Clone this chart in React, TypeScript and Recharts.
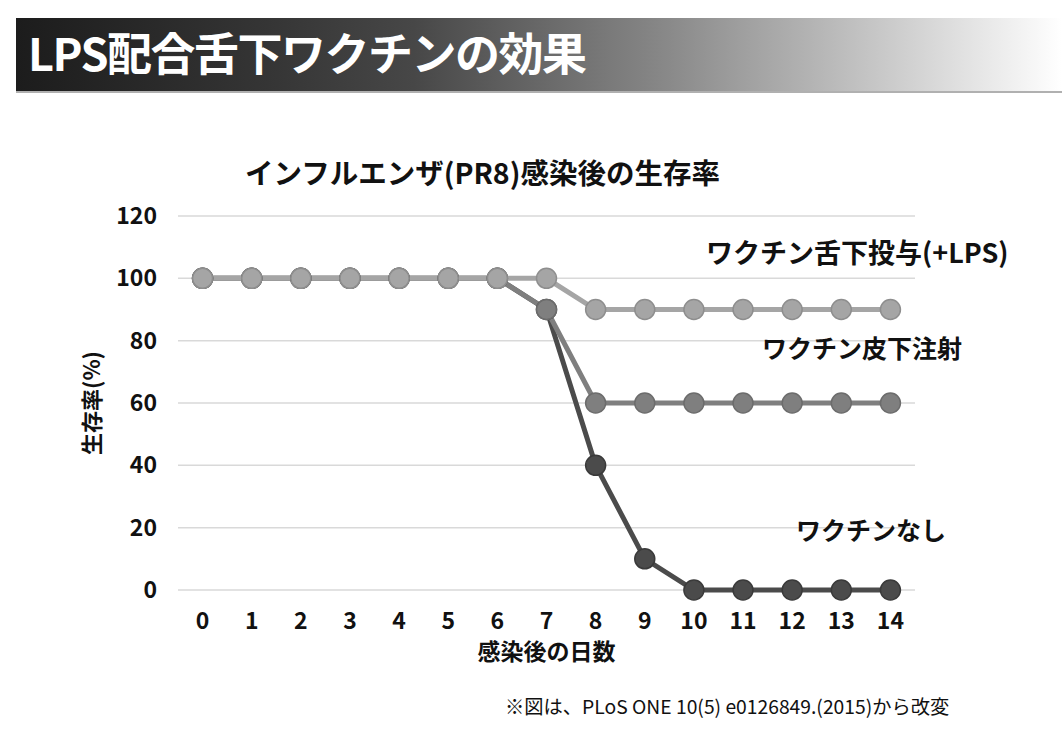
import { CartesianGrid, Line, LineChart, XAxis, YAxis } from "recharts";

const DAYS = [0, 1, 2, 3, 4, 5, 6, 7, 8, 9, 10, 11, 12, 13, 14];
const SUBLINGUAL_LPS = [100, 100, 100, 100, 100, 100, 100, 100, 90, 90, 90, 90, 90, 90, 90];
const SUBCUTANEOUS = [100, 100, 100, 100, 100, 100, 100, 90, 60, 60, 60, 60, 60, 60, 60];
const NO_VACCINE = [100, 100, 100, 100, 100, 100, 100, 90, 40, 10, 0, 0, 0, 0, 0];
const Y_TICKS = [0, 20, 40, 60, 80, 100, 120];

const SERIES = [
	{ key: "none", name: "ワクチンなし", color: "#4b4b4b", edge: "#3a3a3a" },
	{ key: "subq", name: "ワクチン皮下注射", color: "#7f7f7f", edge: "#6c6c6c" },
	{ key: "lps", name: "ワクチン舌下投与(+LPS)", color: "#a5a5a5", edge: "#8e8e8e" },
];

const FONT = "'Noto Sans CJK JP', 'Noto Sans', sans-serif";

const chartData = DAYS.map((d, i) => ({
	day: d,
	lps: SUBLINGUAL_LPS[i],
	subq: SUBCUTANEOUS[i],
	none: NO_VACCINE[i],
}));

function Dot(props: any) {
	const { cx, cy, fill, stroke } = props;
	if (cx == null || cy == null) return null;
	return <circle cx={cx} cy={cy} r={10} fill={fill} stroke={stroke} strokeWidth={1.5} />;
}

const textStyle: React.CSSProperties = {
	position: "absolute",
	fontFamily: FONT,
	fontWeight: 700,
	color: "#111",
	whiteSpace: "nowrap",
	lineHeight: 1,
};

const tickStyle = { fill: "#111", fontSize: 23, fontFamily: FONT, fontWeight: 700 };

export default function App() {
	return (
		<div
			style={{
				position: "absolute",
				left: 0,
				top: 0,
				width: 1062,
				height: 740,
				background: "#fff",
				overflow: "hidden",
			}}
		>
			<div
				style={{
					position: "absolute",
					left: 16,
					top: 18,
					width: 1046,
					height: 73,
					background:
						"linear-gradient(to right, #1c1c1c 0%, #363636 25%, #474747 38%, #888888 62%, #c6c6c6 82%, #ffffff 100%)",
					borderBottom: "2px solid #b0b0b0",
				}}
			>
				<div
					style={{
						position: "absolute",
						left: 12,
						top: 11,
						fontFamily: FONT,
						fontWeight: 700,
						fontSize: 45,
						letterSpacing: -1.5,
						lineHeight: 1,
						color: "#fff",
						whiteSpace: "nowrap",
					}}
				>
					LPS配合舌下ワクチンの効果
				</div>
			</div>

			<div style={{ position: "absolute", left: 0, top: 0 }}>
				<LineChart
					width={1062}
					height={740}
					data={chartData}
					margin={{ top: 216, right: 147, left: 100, bottom: 120 }}
				>
					<CartesianGrid vertical={false} stroke="#d9d9d9" strokeWidth={1.5} />
					<XAxis
						dataKey="day"
						type="number"
						domain={[-0.5, 14.5]}
						ticks={DAYS}
						height={30}
						axisLine={false}
						tickLine={false}
						tickMargin={17}
						tick={tickStyle}
						label={{
							value: "感染後の日数",
							position: "bottom",
							offset: 24,
							fill: "#111",
							fontSize: 23,
							fontFamily: FONT,
							fontWeight: 700,
						}}
					/>
					<YAxis
						width={78}
						domain={[0, 120]}
						ticks={Y_TICKS}
						axisLine={false}
						tickLine={false}
						tickMargin={15}
						tick={tickStyle}
						label={{
							value: "生存率(%)",
							angle: -90,
							position: "insideLeft",
							offset: -8,
							fill: "#111",
							fontSize: 22,
							fontFamily: FONT,
							fontWeight: 700,
							style: { textAnchor: "middle" },
						}}
					/>
					{SERIES.map((s) => (
						<Line
							key={s.key}
							dataKey={s.key}
							name={s.name}
							stroke={s.color}
							strokeWidth={5}
							dot={<Dot fill={s.color} stroke={s.edge} />}
							activeDot={false}
							isAnimationActive={false}
						/>
					))}
				</LineChart>
			</div>

			<div style={{ ...textStyle, left: 245, top: 158, fontSize: 28.5 }}>
				インフルエンザ(PR8)感染後の生存率
			</div>
			<div style={{ ...textStyle, left: 706, top: 238, fontSize: 27 }}>
				{SERIES[2].name}
			</div>
			<div style={{ ...textStyle, left: 762, top: 335, fontSize: 25 }}>
				{SERIES[1].name}
			</div>
			<div style={{ ...textStyle, left: 796, top: 517, fontSize: 25 }}>
				{SERIES[0].name}
			</div>
			<div style={{ ...textStyle, left: 505, top: 697, fontSize: 19.3, fontWeight: 400 }}>
				※図は、PLoS ONE 10(5) e0126849.(2015)から改変
			</div>
		</div>
	);
}
